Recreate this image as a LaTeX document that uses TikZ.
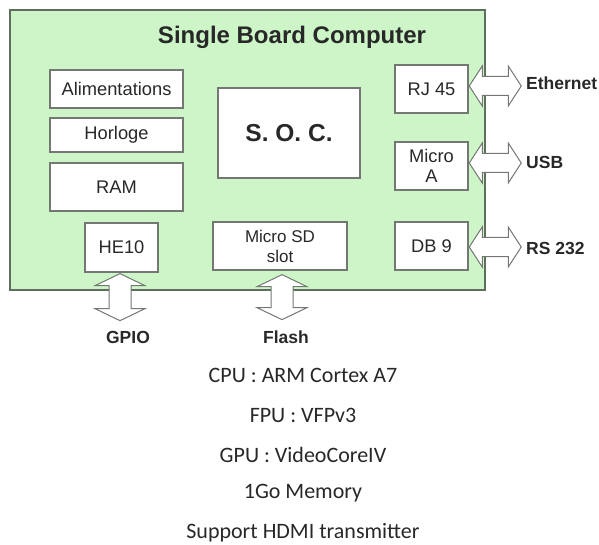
\documentclass[tikz,border=0pt]{standalone}
\usepackage{fontspec}
\setmainfont{Liberation Sans}
\newfontfamily\calfont{Carlito}
\definecolor{boardgreen}{RGB}{205,245,200}
\definecolor{boardedge}{RGB}{95,110,95}
\definecolor{boxedge}{RGB}{115,120,115}
\definecolor{txt}{RGB}{40,40,40}
\begin{document}
\begin{tikzpicture}[x=1pt,y=-1pt,
  board/.style={draw=boardedge,fill=boardgreen,line width=1.6pt},
  part/.style={draw=boxedge,fill=white,line width=1.3pt,inner sep=0pt,align=center,
    text=txt,font=\fontsize{18.3}{20}\selectfont},
  lbl/.style={text=txt,font=\bfseries\fontsize{17.5}{20}\selectfont,inner sep=0pt},
  spec/.style={text=txt,font=\calfont\fontsize{22}{24}\selectfont,inner sep=0pt},
  arr/.style={draw=boxedge,fill=white,line width=1pt,line join=miter}]
\useasboundingbox (0,0) rectangle (599,545);
\fill[white] (0,0) rectangle (599,545);
\draw[board] (10,10) rectangle (485,290);
\node[text=txt,font=\bfseries\fontsize{24}{26}\selectfont] (title) at (292,37) {Single Board Computer};
\node[part,minimum width=133,minimum height=38] (alim) at (116.5,89) {Alimentations};
\node[part,minimum width=133,minimum height=34] (horl) at (116.5,135) {Horloge};
\node[part,minimum width=133,minimum height=48] (ram) at (116.5,187) {RAM};
\node[part,minimum width=73,minimum height=49] (he) at (121.5,247.5) {HE10};
\node[part,minimum width=142,minimum height=90,font=\bfseries\fontsize{24.5}{26}\selectfont] (soc) at (289,133) {S. O. C.};
\node[part,minimum width=134,minimum height=48,font=\fontsize{17}{20}\selectfont] (sd) at (280,246) {Micro SD\\slot};
\node[part,minimum width=73,minimum height=48] (rj) at (431.5,89) {RJ 45};
\node[part,minimum width=73,minimum height=48] (ma) at (431.5,166) {Micro\\A};
\node[part,minimum width=73,minimum height=48] (db) at (431.5,246) {DB 9};
\node[lbl,anchor=west] (eth) at (526,83) {Ethernet};
\node[lbl,anchor=west] (usb) at (526,162) {USB};
\node[lbl,anchor=west] (rs) at (526,248) {RS 232};
\node[lbl] (gpio) at (128,337) {GPIO};
\node[lbl] (flash) at (286,337) {Flash};
% horizontal double arrows
\foreach \b/\dy in {rj/-3,ma/-3,db/1}{
  \draw[arr] ([yshift=-\dy pt]\b.east) ++(0.6,0) -- ++(13,-20) -- ++(0,10.5) -- ++(26,0) -- ++(0,-10.5)
    -- ++(13,20) -- ++(-13,20) -- ++(0,-10.5) -- ++(-26,0) -- ++(0,10.5) -- cycle;
}
% vertical double arrows
\draw[arr] ([xshift=-1.5pt,yshift=-1pt]he.south) -- ++(25,12) -- ++(-14,0) -- ++(0,23) -- ++(14,0)
  -- ++(-25,12) -- ++(-25,-12) -- ++(14,0) -- ++(0,-23) -- ++(-14,0) -- cycle;
\draw[arr] ([xshift=2pt,yshift=-4pt]sd.south) -- ++(25,12) -- ++(-14,0) -- ++(0,21) -- ++(14,0)
  -- ++(-25,12) -- ++(-25,-12) -- ++(14,0) -- ++(0,-21) -- ++(-14,0) -- cycle;
% specifications
\node[spec] (cpu) at (303,375) {CPU : ARM Cortex A7};
\node[spec] (fpu) at (303,415) {FPU : VFPv3};
\node[spec] (gpu) at (303,455) {GPU : VideoCoreIV};
\node[spec] (mem) at (303,493) {1Go Memory};
\node[spec] (hdmi) at (303,533) {Support HDMI transmitter};
\end{tikzpicture}
\end{document}
